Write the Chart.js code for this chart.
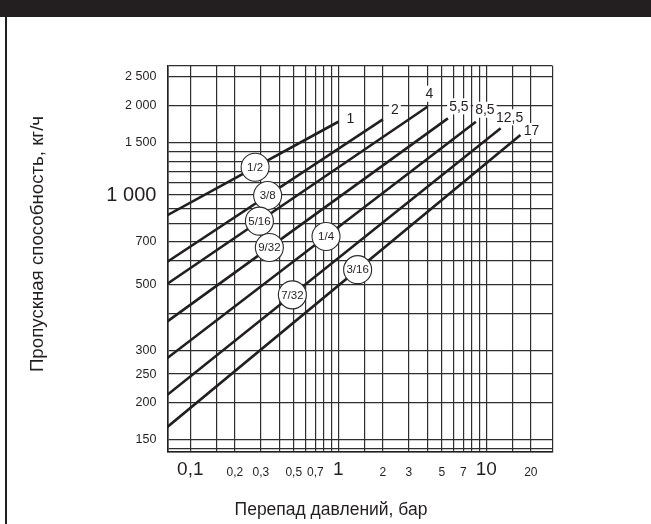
<!DOCTYPE html>
<html lang="ru">
<head>
<meta charset="utf-8">
<title>Пропускная способность</title>
<script src="https://cdn.jsdelivr.net/npm/chart.js@4/dist/chart.umd.min.js"></script>
<style>
  html, body { margin: 0; padding: 0; background: #fff; }
  #wrap { position: relative; width: 651px; height: 524px; overflow: hidden; }
  #chart { position: absolute; left: 0; top: 0; }
  #bar { position: absolute; left: 0; top: 0; width: 651px; height: 17px; background: #231f20; }
  #edge { position: absolute; left: 5px; top: 17px; width: 2px; height: 507px; background: #231f20; }
</style>
</head>
<body>
<div id="wrap">
  <canvas id="chart" width="651" height="524"></canvas>
  <div id="bar"></div>
  <div id="edge"></div>
</div>
<script>
// Maximum pressure drop (bar) of each curve and the label printed at its end
const maxDrop = [1, 2, 4, 5.5, 8.5, 12.5, 17];
const maxDropLabels = ['1', '2', '4', '5,5', '8,5', '12,5', '17'];

// Orifice size tag of each curve
const orificeSizes = ['1/2', '3/8', '5/16', '9/32', '1/4', '7/32', '3/16'];

// Flow capacity (kg/h) at the smallest pressure drop shown and at the maximum drop
const minDrop = 0.07;
const flowAtMinDrop = [856, 597, 503, 376, 283, 213, 166];
const flowAtMaxDrop = [1765, 1798, 1983, 1812, 1765, 1677, 1592];

// Pressure drop at which each orifice tag sits on its curve
const tagDrop = [0.274, 0.333, 0.293, 0.342, 0.826, 0.489, 1.35];

// Axis ranges, grid lines and tick labels
const dropMax = 28;
const flowMin = 137;
const flowMax = 2718;
const dropGrid = [0.07, 0.1, 0.15, 0.2, 0.3, 0.4, 0.5, 0.6, 0.7, 0.8, 0.9,
                  1, 1.5, 2, 3, 4, 5, 6, 7, 8, 9, 10, 15, 20, 28];
const dropTickLabels = ['', '0,1', '', '0,2', '0,3', '', '0,5', '', '0,7', '', '',
                        '1', '', '2', '3', '', '5', '', '7', '', '', '10', '', '20', ''];
const dropMajorLabels = ['0,1', '1', '10'];
const flowGrid = [137, 140, 150, 200, 250, 300, 400, 500, 600, 700, 800, 900,
                  1000, 1100, 1200, 1300, 1400, 1500, 2000, 2500, 2718];
const flowTickLabels = ['', '', '150', '200', '250', '300', '', '500', '', '700', '', '',
                        '1 000', '', '', '', '', '1 500', '2 000', '2 500', ''];
const flowMajorLabels = ['1 000'];

const xTitle = 'Перепад давлений, бар';
const yTitle = 'Пропускная способность, кг/ч';

// Look
const INK = '#231f20';
const GRID = '#2e2e2e';
const FONT = "'Liberation Sans', Arial, Helvetica, sans-serif";
// pixel offset of each end label from the end of its curve
const endLabelOffsets = [[12, -3], [12, -10], [2, -13], [11, -12], [9, -12], [9, -11], [11, -4]];

Chart.defaults.font.family = FONT;
Chart.defaults.color = INK;

// Draws the end labels, the orifice tags and both axis titles
const annotate = {
  id: 'annotate',
  afterDatasetsDraw(chart) {
    const { ctx, scales: { x, y } } = chart;
    ctx.save();
    ctx.textAlign = 'center';
    ctx.textBaseline = 'middle';
    chart.data.datasets.forEach((ds, i) => {
      const p0 = ds.data[0], p1 = ds.data[1];

      // label at the end of the curve, on a white patch
      const ex = x.getPixelForValue(p1.x) + endLabelOffsets[i][0];
      const ey = y.getPixelForValue(p1.y) + endLabelOffsets[i][1];
      ctx.font = `14px ${FONT}`;
      const w = ctx.measureText(maxDropLabels[i]).width;
      ctx.fillStyle = '#fff';
      ctx.fillRect(ex - w / 2 - 2, ey - 8, w + 4, 16);
      ctx.fillStyle = INK;
      ctx.fillText(maxDropLabels[i], ex, ey + 0.5);

      // orifice tag: a circle placed on the curve (straight line in log-log)
      const t = Math.log(tagDrop[i] / p0.x) / Math.log(p1.x / p0.x);
      const flow = p0.y * Math.pow(p1.y / p0.y, t);
      const cx = x.getPixelForValue(tagDrop[i]);
      const cy = y.getPixelForValue(flow);
      ctx.beginPath();
      ctx.arc(cx, cy, 14, 0, Math.PI * 2);
      ctx.fillStyle = '#fff';
      ctx.fill();
      ctx.lineWidth = 1.1;
      ctx.strokeStyle = '#2a2a2a';
      ctx.stroke();
      ctx.font = `11.5px ${FONT}`;
      ctx.fillStyle = INK;
      ctx.fillText(orificeSizes[i], cx, cy + 0.5);
    });

    // axis titles
    ctx.fillStyle = INK;
    ctx.textBaseline = 'alphabetic';
    ctx.font = `17.5px ${FONT}`;
    ctx.fillText(xTitle, 331, 515);
    ctx.font = `18.7px ${FONT}`;
    ctx.translate(43, 244);
    ctx.rotate(-Math.PI / 2);
    ctx.fillText(yTitle, 0, 0);
    ctx.restore();
  }
};

new Chart(document.getElementById('chart'), {
  type: 'line',
  data: {
    datasets: maxDrop.map((d, i) => ({
      label: orificeSizes[i],
      data: [{ x: minDrop, y: flowAtMinDrop[i] }, { x: d, y: flowAtMaxDrop[i] }],
      borderColor: INK,
      borderWidth: 2.6,
      pointRadius: 0,
      fill: false,
      tension: 0
    }))
  },
  options: {
    responsive: false,
    animation: false,
    devicePixelRatio: 1,
    events: [],
    layout: { padding: { left: 0, top: 66, right: 98.5, bottom: 0 } },
    plugins: { legend: { display: false }, tooltip: { enabled: false } },
    scales: {
      x: {
        type: 'logarithmic',
        position: 'bottom',
        min: minDrop,
        max: dropMax,
        afterBuildTicks: s => { s.ticks = dropGrid.map(v => ({ value: v })); },
        afterFit: s => { s.height = 72.3; },
        grid: { color: GRID, lineWidth: 1.2, drawTicks: false },
        border: { color: INK, width: 1.6 },
        ticks: {
          autoSkip: false,
          maxRotation: 0,
          minRotation: 0,
          padding: 7,
          color: INK,
          callback: (v, i) => dropTickLabels[i],
          font: c => dropMajorLabels.includes(dropTickLabels[c.index])
            ? { size: 19, lineHeight: '22.8px' }
            : { size: 12, lineHeight: '27.6px' }
        }
      },
      y: {
        type: 'logarithmic',
        position: 'left',
        min: flowMin,
        max: flowMax,
        afterBuildTicks: s => { s.ticks = flowGrid.map(v => ({ value: v })); },
        afterFit: s => { s.width = 167.4; },
        grid: { color: GRID, lineWidth: 1.2, drawTicks: false },
        border: { color: INK, width: 1.6 },
        ticks: {
          autoSkip: false,
          padding: 11,
          color: INK,
          callback: (v, i) => flowTickLabels[i],
          font: c => flowMajorLabels.includes(flowTickLabels[c.index])
            ? { size: 20 }
            : { size: 12.5 }
        }
      }
    }
  },
  plugins: [annotate]
});
</script>
</body>
</html>
